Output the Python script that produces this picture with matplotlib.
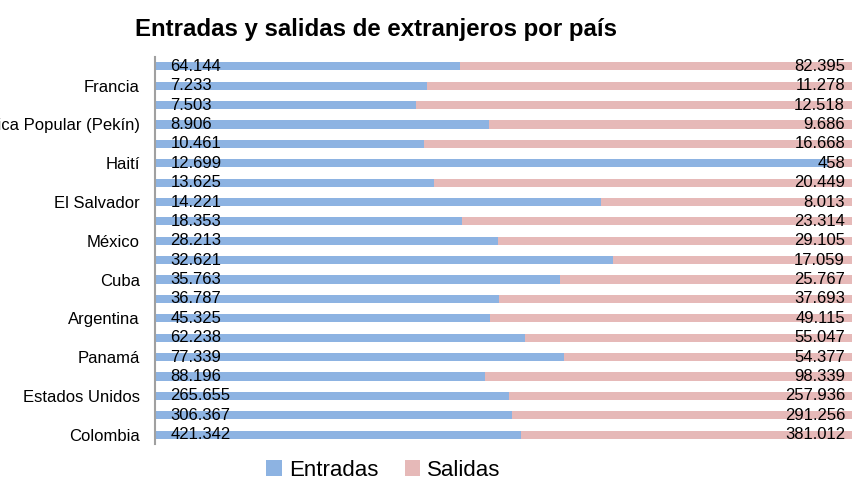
import matplotlib
matplotlib.use('Agg')
from matplotlib import pyplot as plt
import numpy as np

plt.rcParams['font.family'] = ['Liberation Sans', 'DejaVu Sans']

# bottom to top; only every other label is shown in the original
countries = ['Colombia', '', 'Estados Unidos', '', 'Panamá', '', 'Argentina', '',
             'Cuba', '', 'México', '', 'El Salvador', '', 'Haití', '',
             'China, República Popular (Pekín)', '', 'Francia', '']
entradas = [421342, 306367, 265655, 88196, 77339, 62238, 45325, 36787,
            35763, 32621, 28213, 18353, 14221, 13625, 12699, 10461,
            8906, 7503, 7233, 64144]
salidas = [381012, 291256, 257936, 98339, 54377, 55047, 49115, 37693,
           25767, 17059, 29105, 23314, 8013, 20449, 458, 16668,
           9686, 12518, 11278, 82395]

def fmt(v):
  return '{:,}'.format(v).replace(',', '.')

ent = np.array(entradas, dtype=float)
sal = np.array(salidas, dtype=float)
tot = ent + sal
ent_p = ent / tot
sal_p = sal / tot
y = np.arange(len(countries))

fig = plt.figure(figsize=(8.52, 4.84), dpi=100)
ax = fig.add_axes([0.182, 0.082, 0.818, 0.801])

ax.barh(y, ent_p, 0.42, color='#8DB3E2', label='Entradas')
ax.barh(y, sal_p, 0.42, left=ent_p, color='#E6B9B8', label='Salidas')

for i in range(len(y)):
  ax.text(0.022, y[i], fmt(entradas[i]), ha='left', va='center', fontsize=12)
  ax.text(0.99, y[i], fmt(salidas[i]), ha='right', va='center', fontsize=12)

ax.set_xlim(0, 1)
ax.set_ylim(-0.5, len(y) - 0.5)
ax.set_yticks(y)
ax.set_yticklabels(countries, fontsize=12)
ax.tick_params(axis='y', length=0, pad=11)
ax.set_xticks([])
for s in ['top', 'right', 'bottom']:
  ax.spines[s].set_visible(False)
ax.spines['left'].set_color('#A0A0A0')
ax.spines['left'].set_linewidth(1.5)

fig.text(0.441, 0.94, 'Entradas y salidas de extranjeros por país',
  ha='center', va='center', fontsize=17.3, fontweight='bold')

fig.legend(loc='center', bbox_to_anchor=(0.45, 0.028), ncol=2, frameon=False,
  fontsize=16, handlelength=0.7, handleheight=0.7, handletextpad=0.3,
  columnspacing=1.2)

fig.savefig('out.png', dpi=100)
